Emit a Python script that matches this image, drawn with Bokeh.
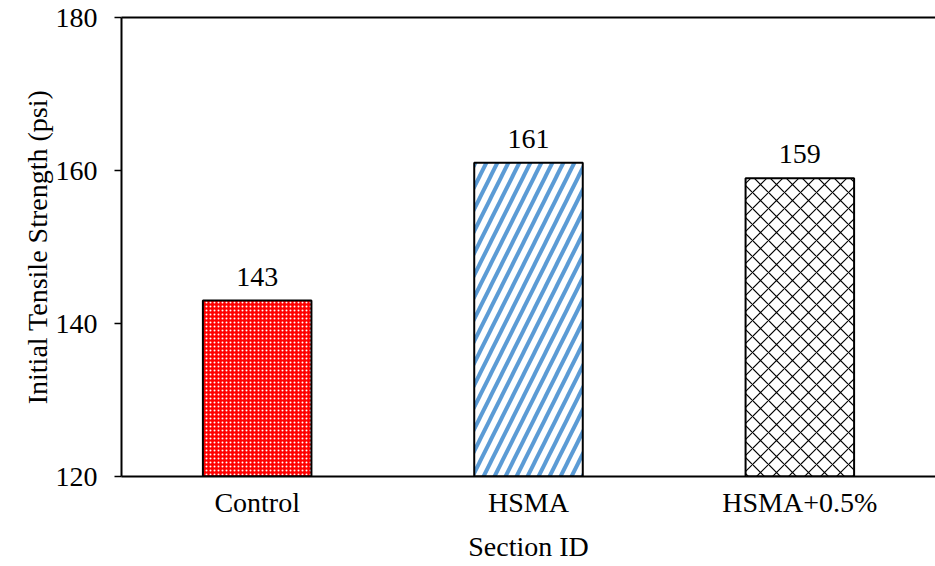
from bokeh.plotting import figure
from bokeh.models import (ColumnDataSource, FactorRange, CategoricalAxis, LabelSet,
                          FixedTicker, Range1d)
from bokeh.embed import file_html
from bokeh.resources import INLINE

# Data
sections = ["Control", "HSMA", "HSMA+0.5%"]
strength = [143, 161, 159]
labels = ["143", "161", "159"]
y_ticks = [120, 140, 160, 180]

FONT = "Liberation Serif"
SIZE = "28px"

x_range = FactorRange(factors=sections, start=0, end=2.97)
p = figure(x_range=x_range, y_range=Range1d(120, 180), width=935, height=566,
           output_backend="svg", toolbar_location=None,
           min_border_left=121, min_border_right=0, min_border_top=17, min_border_bottom=90)
p.outline_line_color = None
p.grid.grid_line_color = None
p.background_fill_color = "white"
p.border_fill_color = "white"

src = ColumnDataSource(dict(x=sections, top=strength, lab=labels))

# Control: red with white dotted texture
p.vbar(x=[sections[0]], top=[strength[0]], bottom=120, width=0.4,
       fill_color="#ff0000", line_color="black", line_width=2,
       hatch_pattern="dot", hatch_color="white", hatch_scale=4, hatch_weight=2)
# HSMA: blue diagonal stripes
p.vbar(x=[sections[1]], top=[strength[1]], bottom=120, width=0.4,
       fill_color="white", line_color="black", line_width=2,
       hatch_pattern="right_diagonal_line", hatch_color="#5b9bd5", hatch_scale=22, hatch_weight=4)
# HSMA+0.5%: black diagonal cross-hatch
p.vbar(x=[sections[2]], top=[strength[2]], bottom=120, width=0.4,
       fill_color="white", line_color="black", line_width=2,
       hatch_pattern="diagonal_cross", hatch_color="black", hatch_scale=16, hatch_weight=1.2)

p.add_layout(LabelSet(x="x", y="top", text="lab", source=src, y_offset=15,
                      text_align="center", text_baseline="alphabetic",
                      text_font=FONT, text_font_size=SIZE, text_color="black"))

# Axes
p.yaxis.ticker = FixedTicker(ticks=y_ticks)
p.yaxis.axis_label = "Initial Tensile Strength (psi)"
p.xaxis.axis_label = "Section ID"
for ax in (p.xaxis[0], p.yaxis[0]):
    ax.axis_line_color = "black"
    ax.axis_line_width = 2
    ax.major_label_text_font = FONT
    ax.major_label_text_font_size = SIZE
    ax.major_label_text_color = "black"
    ax.axis_label_text_font = FONT
    ax.axis_label_text_font_size = SIZE
    ax.axis_label_text_font_style = "normal"
    ax.axis_label_text_color = "black"
    ax.minor_tick_line_color = None
p.yaxis.major_tick_out = 7
p.yaxis.major_tick_in = 0
p.yaxis.major_tick_line_width = 1.5
p.yaxis.major_label_standoff = 17
p.yaxis.axis_label_standoff = 0
p.xaxis.major_tick_line_color = None
p.xaxis.major_label_standoff = 4
p.xaxis.axis_label_standoff = 10

# top border line of the frame (an axis with no ticks or labels)
top_axis = CategoricalAxis(ticker=FixedTicker(ticks=[]),
                           axis_line_color="black", axis_line_width=2,
                           major_tick_line_color=None, minor_tick_line_color=None)
p.add_layout(top_axis, "above")

open("out.html", "w").write(file_html(p, INLINE))
